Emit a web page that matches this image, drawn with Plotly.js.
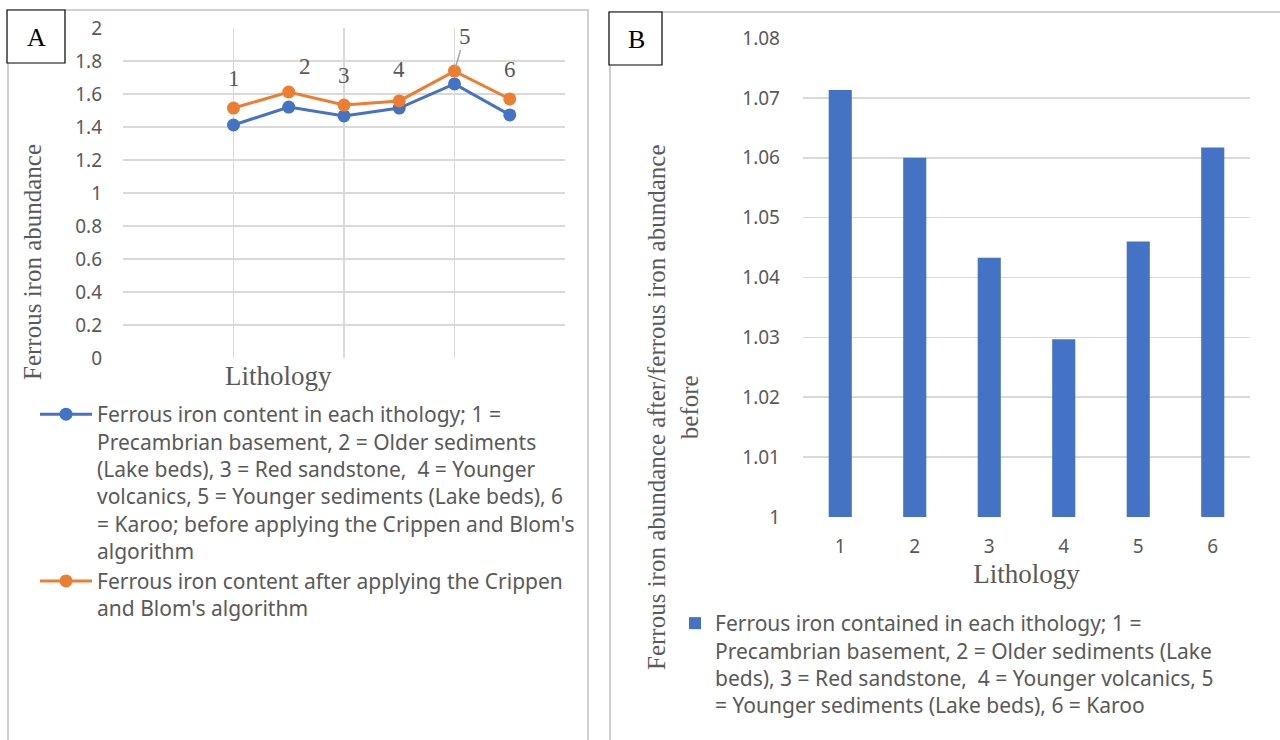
<!DOCTYPE html>
<html>
<head>
<meta charset="utf-8">
<script src="https://cdn.plot.ly/plotly-3.0.1.min.js"></script>
<style>html,body{margin:0;padding:0;background:#fff;}#chart{width:1280px;height:740px;}</style>
</head>
<body>
<div id="chart"></div>
<script>
// ---- data ----
const lithology = [1, 2, 3, 4, 5, 6];
const ferrousBefore = [1.412, 1.521, 1.467, 1.515, 1.661, 1.473];
const ferrousAfter = [1.515, 1.612, 1.533, 1.558, 1.739, 1.570];
const pointLabels = ['1', '2', '3', '4', '5', '6'];
const categoriesB = ['1', '2', '3', '4', '5', '6'];
const ratioAfterBefore = [1.0713, 1.0600, 1.0433, 1.0297, 1.0460, 1.0617];

const nameBefore = "Ferrous iron content in each ithology; 1 =<br>Precambrian basement, 2 = Older sediments<br>(Lake beds), 3 = Red sandstone,  4 = Younger<br>volcanics, 5 = Younger sediments (Lake beds), 6<br>= Karoo; before applying the Crippen and Blom's<br>algorithm";
const nameAfter = "Ferrous iron content after applying the Crippen<br>and Blom's algorithm";
const nameB = "Ferrous iron contained in each ithology; 1 =<br>Precambrian basement, 2 = Older sediments (Lake<br>beds), 3 = Red sandstone,  4 = Younger volcanics, 5<br>= Younger sediments (Lake beds), 6 = Karoo";

// ---- style ----
const W = 1280, H = 740;
const px = v => v / W;
const py = v => 1 - v / H;
const BLUE = '#4472C4', ORANGE = '#ED7D31';
const GRID = '#d9d9d9', TXT = '#595959';
const SANS = 'Noto Sans, Open Sans, sans-serif';
const SERIF = 'Liberation Serif, DejaVu Serif, serif';
const labelOffsets = [[0, 30], [16, 26], [0, 30], [0, 31], [10, 35], [0, 29]];

const traces = [
  {x: lithology, y: ferrousBefore, type: 'scatter', mode: 'lines+markers', name: nameBefore,
   xaxis: 'x', yaxis: 'y', legend: 'legend', legendgroup: 'g1',
   line: {color: BLUE, width: 3}, marker: {color: BLUE, size: 13}},
  {x: lithology, y: ferrousAfter, type: 'scatter', mode: 'lines+markers', name: nameAfter,
   xaxis: 'x', yaxis: 'y', legend: 'legend', legendgroup: 'g2',
   line: {color: ORANGE, width: 3}, marker: {color: ORANGE, size: 13}},
  {x: categoriesB, y: ratioAfterBefore, type: 'bar', name: nameB,
   xaxis: 'x2', yaxis: 'y2', legend: 'legend2', showlegend: true,
   marker: {color: BLUE}}
];

const annotations = [];
pointLabels.forEach((t, i) => {
  const off = labelOffsets[i];
  if (i === 4) {
    annotations.push({x: lithology[i], y: ferrousAfter[i], xref: 'x', yref: 'y', text: t,
      showarrow: true, arrowhead: 0, arrowwidth: 1.5, arrowcolor: '#a6a6a6',
      ax: off[0], ay: -off[1], standoff: 3, font: {family: SERIF, size: 23, color: TXT}});
  } else {
    annotations.push({x: lithology[i], y: ferrousAfter[i], xref: 'x', yref: 'y', text: t,
      showarrow: false, xshift: off[0], yshift: off[1], font: {family: SERIF, size: 23, color: TXT}});
  }
});
const paperNote = (x, y, text, size, color, angle) => ({
  xref: 'paper', yref: 'paper', x: px(x), y: py(y), xanchor: 'center', yanchor: 'middle',
  text: text, showarrow: false, textangle: angle || 0,
  font: {family: SERIF, size: size, color: color}
});
annotations.push(
  paperNote(36, 37, 'A', 26, '#000'),
  paperNote(636, 39, 'B', 26, '#000'),
  paperNote(33, 262, 'Ferrous iron abundance', 25, TXT, -90),
  paperNote(278, 376, 'Lithology', 27, TXT),
  paperNote(673, 408, 'Ferrous iron abundance after/ferrous iron abundance<br>before', 25, TXT, -90)
);

const shapes = [
  {type: 'rect', xref: 'paper', yref: 'paper', x0: px(8), x1: px(588), y0: py(760), y1: py(10),
   line: {color: '#d0d0d0', width: 2}, layer: 'below'},
  {type: 'rect', xref: 'paper', yref: 'paper', x0: px(610), x1: px(1300), y0: py(760), y1: py(12),
   line: {color: '#d0d0d0', width: 2}, layer: 'below'},
  {type: 'rect', xref: 'paper', yref: 'paper', x0: px(7), x1: px(65), y0: py(63), y1: py(10),
   line: {color: '#000', width: 1.2}, fillcolor: '#fff', layer: 'below'},
  {type: 'rect', xref: 'paper', yref: 'paper', x0: px(609), x1: px(662), y0: py(65), y1: py(12),
   line: {color: '#000', width: 1.2}, fillcolor: '#fff', layer: 'below'}
];

const layout = {
  width: W, height: H,
  margin: {l: 0, r: 0, t: 0, b: 0},
  paper_bgcolor: '#fff', plot_bgcolor: 'rgba(0,0,0,0)',
  showlegend: true,
  bargap: 0.69,
  xaxis: {domain: [px(123), px(565)], range: [-1, 7], tick0: -1, dtick: 2, showticklabels: false,
          showgrid: true, gridcolor: GRID, gridwidth: 1.6, zeroline: false, showline: false, ticks: '',
          anchor: 'y'},
  yaxis: {domain: [py(358), py(28)], range: [0, 2], dtick: 0.2, showgrid: true, gridcolor: GRID,
          gridwidth: 1.6, zeroline: false, showline: false, ticks: '', ticklabelstandoff: 20,
          anchor: 'x', tickfont: {family: SANS, size: 19, color: TXT}},
  xaxis2: {domain: [px(803), px(1250)], type: 'category', showgrid: false, zeroline: false,
           showline: false, ticks: '', ticklabelstandoff: 16, anchor: 'y2',
           tickfont: {family: SANS, size: 19, color: TXT},
           title: {text: 'Lithology', standoff: 6, font: {family: SERIF, size: 27, color: TXT}}},
  yaxis2: {domain: [py(517), py(38)], range: [1, 1.08], dtick: 0.01, showgrid: true, gridcolor: GRID,
           gridwidth: 1.6, zeroline: false, showline: false, ticks: '', ticklabelstandoff: 22,
           anchor: 'x2', tickfont: {family: SANS, size: 19, color: TXT}},
  legend: {x: px(35), y: py(394), xanchor: 'left', yanchor: 'top', valign: 'top',
           itemwidth: 52, tracegroupgap: 0, traceorder: 'grouped',
           font: {family: SANS, size: 21, color: TXT}, bgcolor: 'rgba(0,0,0,0)'},
  legend2: {x: px(675), y: py(603), xanchor: 'left', yanchor: 'top', valign: 'top',
            itemwidth: 30, font: {family: SANS, size: 21, color: TXT}, bgcolor: 'rgba(0,0,0,0)'},
  annotations: annotations,
  shapes: shapes
};

Plotly.newPlot('chart', traces, layout, {displayModeBar: false, staticPlot: true});
</script>
</body>
</html>
